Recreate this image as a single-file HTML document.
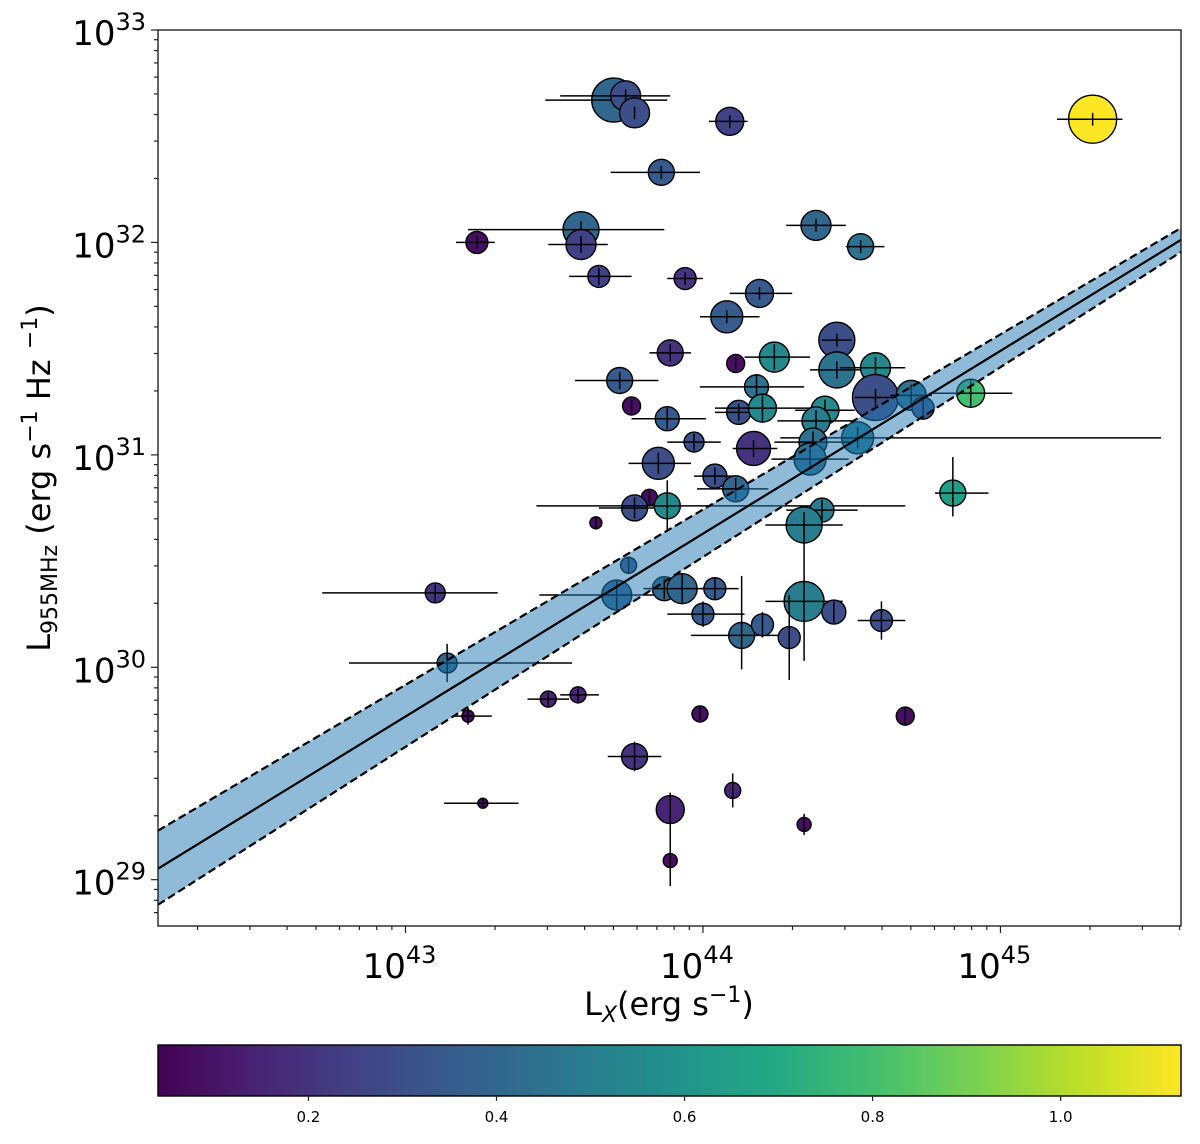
<!DOCTYPE html>
<html><head><meta charset="utf-8"><style>
html,body{margin:0;padding:0;background:#fff}
svg text{font-family:"DejaVu Sans","Liberation Sans",sans-serif;fill:#000}
</style></head><body>
<svg id="chart" width="1200" height="1139" viewBox="0 0 1200 1139" xmlns="http://www.w3.org/2000/svg">
<defs>
<linearGradient id="viridis" x1="0" x2="1" y1="0" y2="0">
<stop offset="0" stop-color="#440154"/><stop offset="0.1" stop-color="#482475"/><stop offset="0.2" stop-color="#414487"/><stop offset="0.3" stop-color="#355f8d"/><stop offset="0.4" stop-color="#2a788e"/><stop offset="0.5" stop-color="#21918c"/><stop offset="0.6" stop-color="#22a884"/><stop offset="0.7" stop-color="#44bf70"/><stop offset="0.8" stop-color="#7ad151"/><stop offset="0.9" stop-color="#bddf26"/><stop offset="1" stop-color="#fde725"/>
</linearGradient>
<clipPath id="plotclip"><rect x="158" y="30" width="1023" height="896"/></clipPath>
</defs>
<g id="plot" clip-path="url(#plotclip)"></g>
<g id="axes"></g>
</svg>
<script>
const logX = [43.70,43.74,43.77,44.09,43.86,45.31,43.59,43.59,43.24,44.38,44.53,43.65,43.94,44.19,44.08,44.45,43.89,44.11,44.24,44.45,44.58,43.72,44.18,44.58,44.70,44.74,44.90,43.76,43.88,44.12,44.20,44.41,44.38,44.52,44.17,43.97,44.37,44.36,43.85,44.04,44.11,43.82,43.77,43.88,43.64,44.40,44.34,44.84,43.75,43.10,43.71,43.87,43.93,44.04,44.34,44.44,44.60,44.00,44.13,44.20,44.29,43.14,43.21,43.48,43.58,43.99,44.68,43.77,43.89,44.10,44.34,43.26,43.89];
const logY = [32.67,32.69,32.61,32.57,32.33,32.58,32.06,31.99,32.00,32.08,31.98,31.84,31.83,31.76,31.65,31.54,31.48,31.43,31.46,31.40,31.41,31.35,31.32,31.27,31.28,31.22,31.29,31.23,31.17,31.20,31.22,31.21,31.16,31.08,31.03,31.06,31.06,30.98,30.96,30.90,30.84,30.80,30.75,30.76,30.68,30.74,30.67,30.82,30.48,30.35,30.34,30.37,30.37,30.37,30.31,30.26,30.22,30.25,30.15,30.20,30.14,30.02,29.77,29.85,29.87,29.78,29.77,29.58,29.33,29.42,29.26,29.36,29.09];
const xErrLo = [.23,.22,0,.07,.17,.12,.38,.11,.07,.10,.05,.10,.06,.10,.09,.05,.07,0,.10,.09,.12,.15,.19,.07,.07,0,.14,0,.12,.08,.16,.10,.13,.26,.07,.09,.13,.13,.10,.07,.13,0,.12,.44,0,.12,.13,.06,0,.38,.26,0,.13,.05,.13,0,.08,.12,.17,0,0,.33,.05,.07,.06,0,0,.09,0,0,0,.13,0];
const xErrHi = [.18,.15,0,.06,.13,.10,.28,.09,.06,.10,.08,.11,.06,.11,.11,.05,.07,0,.12,.11,.10,.13,.16,.07,.07,0,.14,0,.13,.07,.21,.10,.13,1.02,.08,.09,.13,.13,.11,.08,.11,0,.10,.80,0,.12,.13,.12,0,.21,.14,0,.10,.08,.13,0,.08,.14,.16,0,0,.42,.08,.07,.07,0,0,.09,0,0,0,.12,0];
const yErrLo = [.03,.03,.03,.03,.03,.03,.04,.04,.03,.03,.03,.04,.03,.03,.03,.03,.04,.03,.06,.04,.05,.04,.06,.04,.05,.04,.06,.03,.05,.04,.06,.05,.05,.05,.04,.04,.05,.05,.05,.04,.05,.03,.05,.12,.03,.05,.06,.11,.04,.04,.07,.05,.07,.05,.28,.05,.09,.06,.16,.06,.2,.09,.04,.03,.03,.03,.04,.07,.08,.08,.05,.02,.12];
const yErrHi = [.03,.03,.03,.03,.03,.03,.04,.04,.03,.03,.03,.04,.03,.03,.03,.03,.04,.03,.06,.04,.05,.04,.06,.04,.05,.04,.06,.03,.05,.04,.06,.05,.05,.05,.04,.04,.05,.05,.05,.04,.05,.03,.05,.12,.03,.05,.06,.17,.04,.04,.07,.05,.07,.05,.37,.05,.09,.06,.28,.06,.2,.09,.04,.03,.03,.03,.04,.07,.08,.08,.05,.02,.19];
const redshift = [.40,.30,.30,.25,.35,1.13,.40,.25,.08,.40,.45,.25,.20,.35,.35,.30,.20,.08,.55,.45,.55,.35,.45,.30,.45,.35,.80,.08,.35,.30,.55,.55,.50,.50,.20,.30,.45,.45,.30,.30,.40,.08,.30,.55,.08,.50,.50,.65,.35,.20,.40,.40,.40,.35,.50,.30,.30,.35,.40,.35,.30,.40,.08,.15,.15,.08,.08,.20,.15,.15,.08,.08,.08];
const markerSize = [22,15,15,14,13,24,18,15,11,15,13,11,11,14,16,18,13,9,15,18,15,13,12,23,15,11,14,9,12,12,14,14,14,16,17,10,14,16,16,12,13,8,13,13,6,12,18,13,8,10,15,12,15,11,20,12,11,11,13,11,11,10,6,8,8,8,9,13,14,8,7,5,7];
const fitX = [42.168, 45.607];
const fitY = [29.052, 32.012];
const fitUpperY = [29.231, 32.068];
const fitLowerY = [28.882, 31.955];
const xTicks = [43,44,45];
const yTicks = [29,30,31,32,33];
const cbTicks = [0.2,0.4,0.6,0.8,1.0];
const cbTickLabels = ["0.2","0.4","0.6","0.8","1.0"];

const NS="http://www.w3.org/2000/svg";
const X0=158,X1=1181,Y0=30,Y1=926;
const xMin=42.168,xMax=45.607,yMin=28.782,yMax=33.0;
function sx(v){return X0+(v-xMin)/(xMax-xMin)*(X1-X0);}
function sy(v){return Y1-(v-yMin)/(yMax-yMin)*(Y1-Y0);}
const cbMin=0.04,cbMax=1.128,CB0=158,CB1=1181;
function cbx(v){return CB0+(v-cbMin)/(cbMax-cbMin)*(CB1-CB0);}
const vir=[[68,1,84],[72,36,117],[65,68,135],[53,95,141],[42,120,142],[33,145,140],[34,168,132],[68,191,112],[122,209,81],[189,223,38],[253,231,37]];
function viridis(z){let t=Math.max(0,Math.min(1,(z-cbMin)/(cbMax-cbMin)))*10;let i=Math.min(9,Math.floor(t)),f=t-i;const a=vir[i],b=vir[i+1];return `rgb(${a.map((c,k)=>Math.round(c+(b[k]-c)*f)).join(',')})`;}
function mk(tag,attrs,parent){const e=document.createElementNS(NS,tag);for(const k in attrs)e.setAttribute(k,attrs[k]);parent.appendChild(e);return e;}
const plot=document.getElementById('plot'),axes=document.getElementById('axes');

for(let i=0;i<logX.length;i++){
  const g=mk('g',{},plot);
  
  
  const cx=sx(logX[i]),cy=sy(logY[i]);
  mk('circle',{cx:cx,cy:cy,r:markerSize[i],fill:viridis(redshift[i]),stroke:'#000','stroke-width':1.4},g);
  mk('line',{x1:sx(logX[i]-xErrLo[i]),x2:sx(logX[i]+xErrHi[i]),y1:cy,y2:cy,stroke:'#000','stroke-width':1.5},g);
  mk('line',{x1:cx,x2:cx,y1:sy(logY[i]-yErrLo[i]),y2:sy(logY[i]+yErrHi[i]),stroke:'#000','stroke-width':1.5},g);
}
const band=mk('polygon',{points:`${sx(fitX[0])},${sy(fitUpperY[0])} ${sx(fitX[1])},${sy(fitUpperY[1])} ${sx(fitX[1])},${sy(fitLowerY[1])} ${sx(fitX[0])},${sy(fitLowerY[0])}`,fill:'#1f77b4','fill-opacity':0.5},plot);


const up=mk('line',{x1:sx(fitX[0]),y1:sy(fitUpperY[0]),x2:sx(fitX[1]),y2:sy(fitUpperY[1]),stroke:'#000','stroke-width':2.2,'stroke-dasharray':'8,4'},plot);


const lo=mk('line',{x1:sx(fitX[0]),y1:sy(fitLowerY[0]),x2:sx(fitX[1]),y2:sy(fitLowerY[1]),stroke:'#000','stroke-width':2.2,'stroke-dasharray':'8,4'},plot);


const fl=mk('line',{x1:sx(fitX[0]),y1:sy(fitY[0]),x2:sx(fitX[1]),y2:sy(fitY[1]),stroke:'#000','stroke-width':2.2},plot);



const fr=mk('rect',{x:X0,y:Y0,width:X1-X0,height:Y1-Y0,fill:'none',stroke:'#222','stroke-width':1.4},axes);


for(let d=42;d<=45;d++){for(let m=1;m<=9;m++){const v=d+Math.log10(m);if(v<xMin||v>xMax)continue;const x=sx(v);const major=m===1;
  const t=mk('line',{x1:x,x2:x,y1:Y1,y2:Y1+(major?7:4),stroke:'#222','stroke-width':1.2},axes);
  
  }}
for(const v of xTicks){const t=mk('text',{x:sx(v)-6,y:Y1+52,'font-size':34,'text-anchor':'middle'},axes);
  
  
  t.innerHTML='10<tspan dy="-15" font-size="24">'+v+'</tspan>';}
for(let d=28;d<=33;d++){for(let m=1;m<=9;m++){const v=d+Math.log10(m);if(v<yMin||v>yMax+1e-9)continue;const y=sy(v);const major=m===1;
  const t=mk('line',{x1:X0-(major?7:4),x2:X0,y1:y,y2:y,stroke:'#222','stroke-width':1.2},axes);
  
  }}
for(const v of yTicks){const t=mk('text',{x:X0-12,y:sy(v)+15,'font-size':34,'text-anchor':'end'},axes);
  
  
  t.innerHTML='10<tspan dy="-15" font-size="24">'+v+'</tspan>';}
const xt=mk('text',{x:669,y:1015,'font-size':32,'text-anchor':'middle'},axes);


xt.innerHTML='L<tspan dy="7" font-size="22" font-style="italic">X</tspan><tspan dy="-7">(erg s</tspan><tspan dy="-13" font-size="22">−1</tspan><tspan dy="13">)</tspan>';
const yt=mk('text',{x:0,y:0,'font-size':32,'text-anchor':'middle',transform:'translate(50,478) rotate(-90)'},axes);


yt.innerHTML='L<tspan dy="7" font-size="22">955MHz</tspan><tspan dy="-7"> (erg s</tspan><tspan dy="-13" font-size="22">−1</tspan><tspan dy="13"> Hz </tspan><tspan dy="-13" font-size="22">−1</tspan><tspan dy="13">)</tspan>';
const cb=mk('rect',{x:CB0,y:1045,width:CB1-CB0,height:51,fill:'url(#viridis)',stroke:'#000','stroke-width':1.4},axes);


cbTicks.forEach((v,i)=>{const x=cbx(v);
  const t=mk('line',{x1:x,x2:x,y1:1096,y2:1101,stroke:'#222','stroke-width':1.2},axes);
  
  
  const l=mk('text',{x:x,y:1122,'font-size':15,'text-anchor':'middle'},axes);
  
  
  l.textContent=cbTickLabels[i];});
</script>
</body></html>
